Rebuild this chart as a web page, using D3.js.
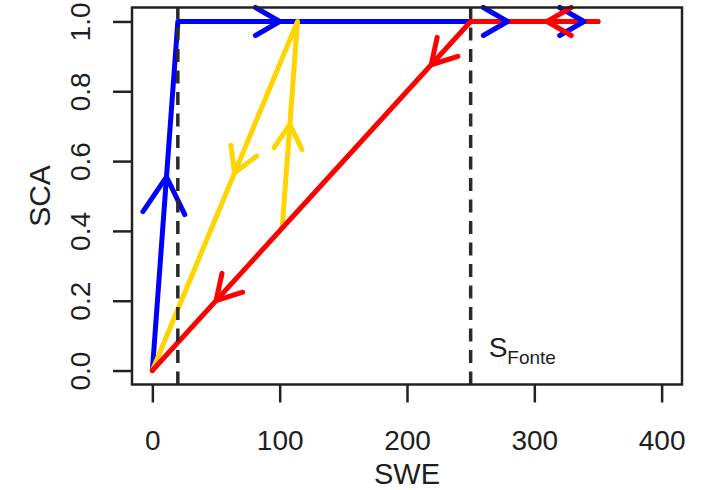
<!DOCTYPE html>
<html>
<head>
<meta charset="utf-8">
<script src="https://cdn.jsdelivr.net/npm/d3@7"></script>
<style>
  body{margin:0;background:#fff;}
  text{font-family:"Liberation Sans",Arial,sans-serif;fill:#1e1e1e;}
</style>
</head>
<body>
<svg id="drawing_region"></svg>
<script>
// paths (SWE, SCA)
const blue_swe = [0, 20, 350]
const blue_sca = [0, 1, 1]
const gold_swe = [102, 114, 0]
const gold_sca = [0.41, 1, 0]
const red_swe = [350, 250, 0]
const red_sca = [1, 1, 0]

// arrow tips: [swe, sca, segment of the path it sits on]
const blue_arrows = [[11.1, 0.555, 0], [100, 1, 1], [279, 1, 1], [339, 1, 1]]
const gold_arrows = [[108, 0.705, 0], [64.5, 0.566, 1]]
const red_arrows = [[310, 1, 0], [219, 0.876, 1], [50, 0.2, 1]]

// vertical dashed lines
const vlines = [20, 250]

const xticks = [0, 100, 200, 300, 400]
const yticks = [0, 0.2, 0.4, 0.6, 0.8, 1.0]
const ytick_labels = ["0.0", "0.2", "0.4", "0.6", "0.8", "1.0"]

const width = 702, height = 490
const box = {left:132, right:682, top:7.5, bottom:384.5}

const svg = d3.select("#drawing_region")
    .attr("width", width)
    .attr("height", height)

const xscale = d3.scaleLinear().domain([-16, 416]).range([box.left, box.right])
const yscale = d3.scaleLinear().domain([-0.04, 1.04]).range([box.bottom, box.top])

const line = d3.line().x(d=>xscale(d[0])).y(d=>yscale(d[1]))

const series = [
    {swe:blue_swe, sca:blue_sca, arrows:blue_arrows, color:"#0000ff"},
    {swe:gold_swe, sca:gold_sca, arrows:gold_arrows, color:"#ffd400"},
    {swe:red_swe, sca:red_sca, arrows:red_arrows, color:"#ff0000"}
]

// lines first
series.forEach(s=>{
    const pts = s.swe.map((x,i)=>[x, s.sca[i]])
    s.pts = pts
    svg.append("path")
        .attr("d", line(pts))
        .attr("fill", "none")
        .attr("stroke", s.color)
        .attr("stroke-width", 5)
        .attr("stroke-linecap", "round")
        .attr("stroke-linejoin", "round")
})

// open arrow heads, 30 degree wings
function head(tip, dir, len){
    const a = Math.atan2(dir[1], dir[0])
    const w = [a + Math.PI - Math.PI/6, a + Math.PI + Math.PI/6]
        .map(t=>[tip[0] + len*Math.cos(t), tip[1] + len*Math.sin(t)])
    return `M${w[0][0]},${w[0][1]}L${tip[0]},${tip[1]}L${w[1][0]},${w[1][1]}`
}

series.forEach((s,si)=>{
    s.arrows.forEach((a,ai)=>{
        const p0 = s.pts[a[2]], p1 = s.pts[a[2]+1]
        const dir = [xscale(p1[0])-xscale(p0[0]), yscale(p1[1])-yscale(p0[1])]
        const len = (si==0 && ai==0) ? 42 : 28
        svg.append("path")
            .attr("d", head([xscale(a[0]), yscale(a[1])], dir, len))
            .attr("fill", "none")
            .attr("stroke", s.color)
            .attr("stroke-width", 5)
            .attr("stroke-linecap", "round")
            .attr("stroke-linejoin", "round")
    })
})

// dashed lines
svg.selectAll(".vline")
    .data(vlines)
    .enter()
    .append("line")
    .attr("x1", d=>xscale(d))
    .attr("x2", d=>xscale(d))
    .attr("y1", box.bottom)
    .attr("y2", box.top)
    .attr("stroke", "#2a2a2a")
    .attr("stroke-width", 3.5)
    .attr("stroke-dasharray", "13,8.5")

// box
svg.append("rect")
    .attr("x", box.left)
    .attr("y", box.top)
    .attr("width", box.right-box.left)
    .attr("height", box.bottom-box.top)
    .attr("fill", "none")
    .attr("stroke", "#222")
    .attr("stroke-width", 2.5)

// axes
const xaxis = d3.axisBottom(xscale).tickValues(xticks).tickSize(18).tickPadding(30).tickSizeOuter(0)
const xg = svg.append("g")
    .attr("transform", `translate(0,${box.bottom})`)
    .call(xaxis)
xg.select(".domain").remove()
xg.selectAll(".tick line").attr("stroke", "#222").attr("stroke-width", 2.5)
xg.selectAll(".tick text")
    .attr("font-size", 28)
    .attr("font-family", "Liberation Sans, Arial, sans-serif")
    .attr("fill", "#1e1e1e")
    .attr("dy", "0")
    .attr("y", 450-box.bottom)

const yaxis = d3.axisLeft(yscale).tickValues(yticks).tickFormat((d,i)=>ytick_labels[i]).tickSize(19).tickSizeOuter(0)
const yg = svg.append("g")
    .attr("transform", `translate(${box.left},0)`)
    .call(yaxis)
yg.select(".domain").remove()
yg.selectAll(".tick line").attr("stroke", "#222").attr("stroke-width", 2.5)
yg.selectAll(".tick text")
    .attr("font-size", 28)
    .attr("font-family", "Liberation Sans, Arial, sans-serif")
    .attr("fill", "#1e1e1e")
    .attr("x", 0).attr("dy", "0")
    .attr("text-anchor", "middle")
    .attr("transform", `translate(${90-box.left},0) rotate(-90)`)

// axis titles
svg.append("text")
    .attr("x", (box.left+box.right)/2)
    .attr("y", 484)
    .attr("text-anchor", "middle")
    .attr("font-size", 29)
    .text("SWE")

svg.append("text")
    .attr("transform", `translate(50,${(box.top+box.bottom)/2}) rotate(-90)`)
    .attr("text-anchor", "middle")
    .attr("font-size", 30)
    .text("SCA")

// S_Fonte label
const lab = svg.append("text")
    .attr("x", xscale(vlines[1])+18)
    .attr("y", yscale(0.04))
    .attr("font-size", 28)
lab.append("tspan").text("S")
lab.append("tspan").attr("font-size", 19).attr("dy", 7).text("Fonte")
</script>
</body>
</html>
